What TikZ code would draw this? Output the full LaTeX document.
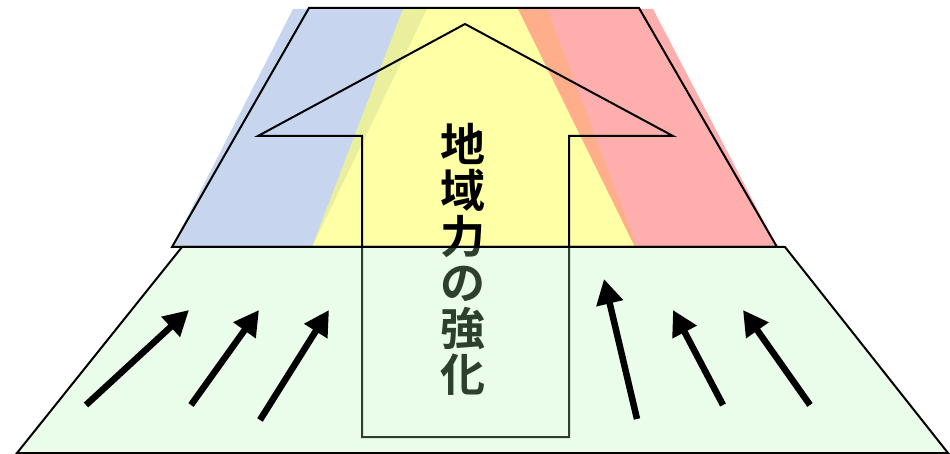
\documentclass[tikz,border=0pt]{standalone}
\usepackage{fontspec}
\newfontfamily\cjk{Noto Sans CJK JP}[BoldFont={Noto Sans CJK JP Bold}]
\usetikzlibrary{arrows.meta}
\definecolor{bandblue}{RGB}{165,188,228}
\definecolor{bandyellow}{RGB}{255,255,110}
\definecolor{bandred}{RGB}{255,125,125}
\definecolor{basegreen}{RGB}{175,245,175}
\tikzset{
  band/.style={opacity=0.62},
  outline/.style={draw=black, line width=2pt, line join=miter},
  pusharrow/.style={line width=6.5pt, -{Triangle[length=25pt,width=26pt]}}
}
\begin{document}
\begin{tikzpicture}[x=1pt,y=-1pt]
\useasboundingbox (0,0) rectangle (950,454);
% colored bands
\fill[bandblue,band] (293,9) -- (427,9) -- (312,247) -- (172,247) -- cycle;
\fill[bandyellow,band] (403,9) -- (547,9) -- (637,247) -- (312,247) -- cycle;
\fill[bandred,band] (518,9) -- (653,9) -- (777,247) -- (635,247) -- cycle;
% upper trapezoid outline
\coordinate (ut1) at (309,8);
\coordinate (ut2) at (639,8);
\coordinate (ut3) at (777,247);
\coordinate (ut4) at (172,247);
\draw[outline] (ut1) -- (ut2) -- (ut3) -- (ut4) -- cycle;
% big arrow outline
\coordinate (a1) at (465,24);
\coordinate (a2) at (673,136);
\coordinate (a3) at (569,136);
\coordinate (a4) at (569,437);
\coordinate (a5) at (362,437);
\coordinate (a6) at (362,136);
\coordinate (a7) at (258,136);
\draw[outline] (a1) -- (a2) -- (a3) -- (a4) -- (a5) -- (a6) -- (a7) -- cycle;
% text
\node[font=\cjk\bfseries\fontsize{45}{46}\selectfont, align=center, inner sep=0pt] (label) at (463,259) {地\\域\\力\\の\\強\\化};
% lower trapezoid
\coordinate (lt1) at (182,247);
\coordinate (lt2) at (785,247);
\coordinate (lt3) at (948,453);
\coordinate (lt4) at (17,453);
\fill[basegreen,opacity=0.26] (lt1) -- (lt2) -- (lt3) -- (lt4) -- cycle;
\draw[outline] (lt1) -- (lt2) -- (lt3) -- (lt4) -- cycle;
% push arrows
\coordinate (s1) at (86,405); \coordinate (e1) at (189,310);
\coordinate (s2) at (191,405); \coordinate (e2) at (259,310);
\coordinate (s3) at (260,420); \coordinate (e3) at (329,310);
\coordinate (s4) at (637,419); \coordinate (e4) at (604,279);
\coordinate (s5) at (723,405); \coordinate (e5) at (673,310);
\coordinate (s6) at (810,405); \coordinate (e6) at (743,310);
\foreach \i in {1,...,6} \draw[pusharrow] (s\i) -- (e\i);
\end{tikzpicture}
\end{document}
